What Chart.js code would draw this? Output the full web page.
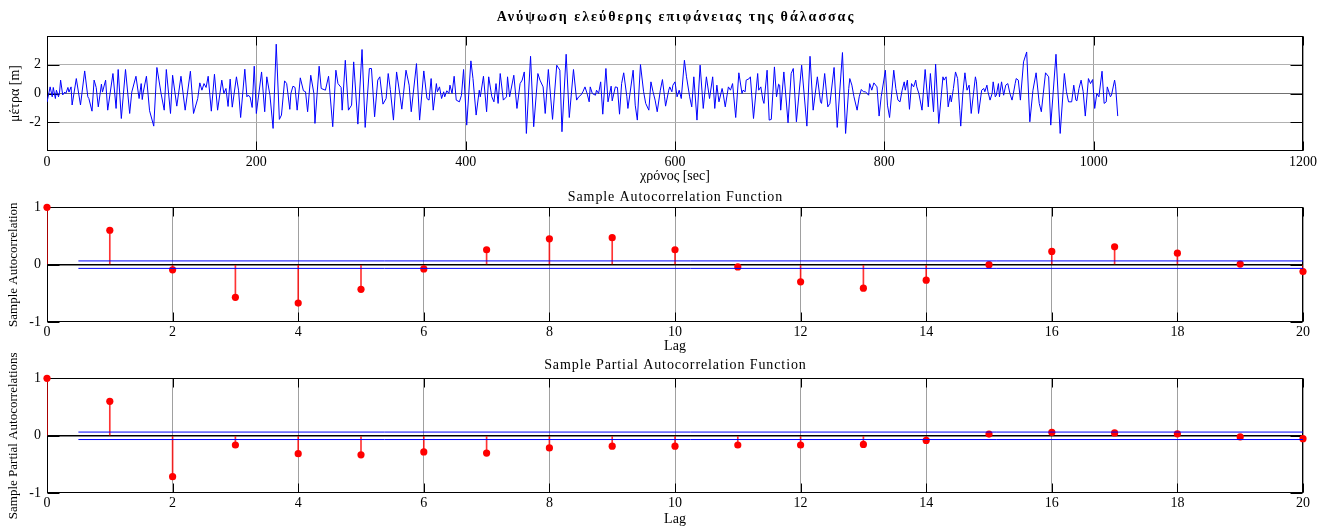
<!DOCTYPE html>
<html>
<head>
<meta charset="utf-8">
<script src="https://cdn.jsdelivr.net/npm/chart.js@4.4.1/dist/chart.umd.min.js"></script>
<style>
  html, body { margin: 0; padding: 0; background: #fff; }
  body { width: 1331px; height: 528px; position: relative; overflow: hidden; }
  canvas { position: absolute; left: 0; }
</style>
</head>
<body>
<canvas id="wave" width="1331" height="187" style="top:0"></canvas>
<canvas id="acf" width="1331" height="172" style="top:185px"></canvas>
<canvas id="pacf" width="1331" height="184" style="top:344px"></canvas>
<script>
// free surface elevation record: turning points of the trace (sec / m)
const waveTime = [
  0, 3, 5, 6, 8, 9, 11, 12, 13, 15, 17, 18, 20, 21, 23, 24, 28, 32, 36, 39,
  40, 43, 45, 47, 49, 52, 53, 56, 58, 63, 66, 68, 71, 75, 79, 81, 85, 88, 90, 91,
  92, 95, 98, 102, 105, 109, 112, 114, 118, 120, 124, 128, 132, 137, 140, 144, 146, 148, 150, 152,
  154, 157, 160, 163, 167, 169, 171, 173, 175, 177, 181, 183, 185, 189, 191, 192, 194, 196, 198, 200,
  205, 208, 210, 213, 216, 219, 222, 224, 227, 229, 232, 233, 235, 237, 239, 242, 245, 247, 249, 252,
  255, 256, 260, 262, 266, 269, 273, 276, 278, 281, 282, 285, 288, 291, 293, 297, 301, 304, 308, 310,
  313, 316, 318, 321, 324, 326, 328, 331, 334, 337, 339, 343, 346, 348, 353, 356, 360, 363, 365, 367,
  369, 372, 373, 375, 377, 379, 380, 382, 384, 385, 387, 389, 391, 394, 396, 398, 401, 405, 407, 410,
  413, 414, 417, 420, 422, 425, 427, 429, 431, 433, 436, 439, 440, 442, 446, 449, 452, 454, 456, 458,
  462, 465, 469, 471, 474, 476, 479, 483, 487, 490, 492, 496, 499, 503, 506, 508, 510, 512, 514, 516,
  518, 519, 521, 524, 525, 527, 529, 531, 534, 536, 539, 540, 543, 545, 547, 549, 551, 554, 555, 557,
  560, 562, 564, 567, 570, 572, 575, 577, 579, 581, 583, 586, 588, 590, 591, 594, 595, 597, 598, 600,
  602, 604, 606, 609, 611, 614, 616, 618, 621, 624, 627, 630, 633, 636, 638, 640, 642, 645, 646, 648,
  651, 653, 655, 658, 661, 664, 665, 667, 668, 671, 672, 675, 679, 680, 682, 684, 685, 688, 690, 692,
  695, 697, 699, 700, 701, 704, 708, 711, 713, 716, 721, 726, 729, 732, 736, 739, 740, 743, 746, 748,
  752, 755, 760, 763, 766, 767, 769, 771, 774, 776, 778, 780, 782, 785, 786, 788, 790, 793, 795, 797,
  801, 803, 805, 809, 811, 813, 815, 817, 819, 820, 822, 824, 826, 828, 830, 831, 833, 836, 839, 842,
  844, 847, 849, 852, 856, 857, 859, 860, 861, 863, 864, 866, 868, 870, 872, 873, 875, 877, 879, 881,
  883, 887, 888, 890, 893, 895, 896, 898, 899, 901, 903, 904, 906, 907, 909, 910, 912, 914, 916, 918,
  920, 922, 923, 925, 926, 928, 930, 933, 936, 939, 942, 945, 948, 950, 954, 957, 959, 964, 968, 972,
  974, 976, 979, 981, 983, 984, 986, 988, 990, 992, 995, 997, 999, 1001, 1003, 1005, 1008, 1010, 1012, 1013,
  1016, 1017, 1020, 1021, 1023
];
const waveElev = [
  -0.6, 0.46, -0.23, 0.42, -0.35, 0.23, -0.23, 0.1, 0.93, -0.1, 0.1, 0, 0.42, 0.1, 0.46, -0.8, 1.04, -0.8, 1.57, -0.23,
  -0.35, -1.23, 0.93, 0.42, -0.93, 0.65, 0.1, 0.93, -1.16, 1.39, -1.04, 1.67, -1.74, 1.67, -1.39, 0.1, 1.2, -0.35, 0.69, -0.42,
  0.1, 1.2, -1.2, -2.27, 1.81, 0, -1.16, 1.67, -1.39, 1.27, -0.88, 1.2, -1.16, 1.55, -1.39, -0.35, 0.74, 0.23, 0.69, 0.42,
  1.2, -1.23, 1.34, -1.16, 0.93, 0, 0.35, -0.9, 1.0, -0.95, 1.16, 0.23, -1.67, 1.69, -0.23, -0.12, -0.23, -0.97, 1.9, -1.39,
  1.5, -1.27, 1.16, -0.12, -2.43, 3.43, -1.8, -1.5, 0.88, 0.69, -1.1, 0, 0.51, 0.42, -1.16, 1.09, 0.19, 0.12, -1.27, 1.27,
  0, -2.08, 1.9, 0.35, 0.23, 1.2, -2.31, 1.62, 0.69, 0.42, -1.16, 2.31, -1.16, -0.81, 2.2, -2.13, 3.06, -2.36, 1.74, 1.74,
  -1.62, 0.93, 1.16, -0.74, -0.35, 1.39, 0.28, -1.85, 1.5, 0, -1.09, 1.62, 0.58, -1.27, 2.08, -1.85, 1.57, -0.35, -0.46, 1.04,
  -1.16, 0.69, 0.12, 0.46, -0.35, 0.12, -0.23, 0.19, 0, 0.58, 0, 1.2, -0.46, -0.58, -0.12, 1.67, -2.2, 2.27, 1.04, -1.5,
  0.23, -0.23, 1.2, -1.27, 1.16, -0.23, -0.58, 0.69, -0.69, 1.39, -0.46, -0.23, 1.16, -0.23, 1.27, -1.04, 0.69, 0.93, 1.5, -2.78,
  2.59, -2.31, 1.39, 0.93, 0.46, -1.39, 1.67, -1.8, 1.97, 1.62, -2.66, 2.73, -1.67, 1.67, -0.46, -0.23, -0.12, 0.12, 0.46, 0,
  -0.58, 0.46, 0, -0.12, 0.23, 0, 0.81, -1.44, 1.74, -0.58, 0.51, -0.51, 0.46, 0.42, -1.44, 0.69, 1.44, -0.23, -1.04, 0,
  1.62, -0.81, -1.85, 2.01, 0.12, -0.69, -1.16, 0.81, 0.12, -0.46, -1.27, 0.23, 0.97, -0.23, -0.88, 0.23, 0.46, 0.12, 0.58, 0.81,
  -0.23, 0.23, -0.35, 2.31, 1.16, -0.23, -0.93, 1.16, -1.85, 1.97, -1.04, 1.16, -0.35, 1.16, -1.04, 0.58, -0.58, 0.35, 0, -0.93,
  0.46, 0.23, 0.69, -1.67, 1.44, 0, 0.23, 0.12, 0.93, 1.04, 1.16, -1.74, 1.39, 0.23, 0.46, -0.46, -0.69, 1.62, -1.85, -1.8,
  1.85, -0.23, 0.65, 0.58, -1.16, 1.5, -2.04, 1.39, 1.74, -1.97, 1.97, -2.27, 2.59, -1.16, 1.16, -0.58, -0.69, 1.39, -0.93, -0.69,
  1.81, -2.36, 2.85, -2.78, 0.35, 1.04, 0.58, -0.23, -1.16, -0.23, 0.28, 0.12, 0.12, -0.12, 0.69, 0.23, 0.74, 0.46, -1.57, -0.23,
  1.62, -0.81, -1.67, 1.62, 0.35, -0.46, -0.58, 0.23, 0.81, 0.23, 0.93, -1.1, 0.69, 0.46, 0.93, 0.46, 0, -1.16, 1.67, -0.93,
  1.39, -1.27, 2.04, -2.08, 1.16, 0.93, 1.16, 0.23, -0.93, -0.12, -0.58, 0.35, 1.5, 1.04, -1.16, -2.27, 0, 1.44, 0.23, 0.58,
  -1.39, 1.16, 0.81, -1.39, 0.23, 0.35, 0.12, 0.58, 0.12, -0.46, 0, 0.81, -0.23, -0.12, 0.69, -0.23, 0.81, -0.12, 0.58, 0.69,
  0, -0.46, -0.12, 0.69, 1.04, 0.93, -0.46, 2.2, 2.89, -1.97, 0.23, 1.44, -0.69, -1.27, 1.44, 1.16, -2.2, 2.73, -2.78, 1.39,
  0.12, -0.58, -0.58, 0.58, -0.46, -0.51, 0.35, 0.93, 0.12, -1.57, 1.04, 0.69, 0.97, -1.04, 0, -0.23, 1.55, -0.69, -0.58, 0.46,
  -0.23, -0.12, 0.93, 0.46, -1.57
];
const timeTicks = [0, 200, 400, 600, 800, 1000, 1200];
const elevTicks = [-2, 0, 2];

// correlograms
const lags = [0, 1, 2, 3, 4, 5, 6, 7, 8, 9, 10, 11, 12, 13, 14, 15, 16, 17, 18, 19, 20];
const acfValues = [1, 0.60, -0.09, -0.57, -0.67, -0.43, -0.075, 0.26, 0.45, 0.47, 0.26,
  -0.04, -0.30, -0.41, -0.27, 0.0, 0.23, 0.31, 0.20, 0.01, -0.12];
const pacfValues = [1, 0.60, -0.71, -0.16, -0.31, -0.33, -0.28, -0.30, -0.21, -0.18, -0.18,
  -0.16, -0.16, -0.15, -0.08, 0.03, 0.06, 0.05, 0.035, -0.02, -0.05];
const confBound = 0.065;
const lagTicks = [0, 2, 4, 6, 8, 10, 12, 14, 16, 18, 20];
const corrTicks = [-1, 0, 1];

const serif = "'Liberation Serif', 'Times New Roman', serif";
Chart.defaults.font.family = serif;
Chart.defaults.font.size = 14;
Chart.defaults.color = '#000';
Chart.defaults.animation = false;
Chart.defaults.plugins.legend.display = false;
Chart.defaults.plugins.tooltip.enabled = false;

// black box round the plot area with inward tick marks, under the data
const frame = {
  id: 'frame',
  beforeDatasetsDraw(chart) {
    const { ctx, chartArea: a, scales } = chart;
    const L = Math.round(a.left) + 0.5, R = Math.round(a.right) - 0.5;
    const T = Math.round(a.top) + 0.5, B = Math.round(a.bottom) - 0.5;
    ctx.save();
    ctx.strokeStyle = '#000';
    ctx.lineWidth = 1;
    ctx.strokeRect(L, T, R - L, B - T);
    ctx.beginPath();
    scales.x.ticks.forEach(t => {
      const px = Math.round(scales.x.getPixelForValue(t.value)) + 0.5;
      ctx.moveTo(px, T); ctx.lineTo(px, T + 9);
      ctx.moveTo(px, B); ctx.lineTo(px, B - 9);
    });
    scales.y.ticks.forEach(t => {
      const py = Math.round(scales.y.getPixelForValue(t.value)) + 0.5;
      ctx.moveTo(L, py); ctx.lineTo(L + 12, py);
      ctx.moveTo(R, py); ctx.lineTo(R - 12, py);
    });
    ctx.stroke();
    ctx.restore();
  }
};

// panel heading, letter-spaced, centred over the plot area
const heading = {
  id: 'heading',
  afterDraw(chart, args, opts) {
    const { ctx, chartArea: a } = chart;
    ctx.save();
    ctx.font = (opts.bold ? 'bold ' : '') + '14px ' + serif;
    ctx.letterSpacing = opts.spacing + 'px';
    ctx.textAlign = 'center';
    ctx.textBaseline = 'middle';
    ctx.fillStyle = '#000';
    ctx.fillText(opts.text, (a.left + a.right) / 2 + opts.spacing / 2, opts.y);
    ctx.restore();
  }
};

function fixedTicks(values) {
  return scale => { scale.ticks = values.map(v => ({ value: v })); };
}

const plainNumber = v => String(v);

// elevation vs time
new Chart(document.getElementById('wave'), {
  type: 'line',
  data: {
    datasets: [{
      data: waveTime.map((t, i) => ({ x: t, y: waveElev[i] })),
      borderColor: '#0000ff',
      borderWidth: 1,
      pointRadius: 0,
      tension: 0
    }]
  },
  options: {
    responsive: false,
    layout: { padding: { left: 0, right: 28, top: 36, bottom: 0 } },
    plugins: {
      heading: { text: 'Ανύψωση ελεύθερης επιφάνειας της θάλασσας', bold: true, spacing: 2, y: 17 }
    },
    scales: {
      x: {
        type: 'linear', min: 0, max: 1200,
        afterBuildTicks: fixedTicks(timeTicks),
        afterFit: s => { s.height = 36; },
        ticks: { padding: 3, maxRotation: 0, callback: plainNumber },
        grid: { color: '#a0a0a0', drawTicks: false },
        border: { display: false },
        title: { display: true, text: 'χρόνος [sec]', padding: { top: 0, bottom: 2.6 } }
      },
      y: {
        min: -4, max: 4,
        afterBuildTicks: fixedTicks(elevTicks),
        afterFit: s => { s.width = 47; },
        ticks: { padding: 6, callback: plainNumber },
        grid: { color: c => c.tick.value === 0 ? '#707070' : '#b0b0b0', drawTicks: false },
        border: { display: false },
        title: { display: true, text: 'μέτρα [m]', padding: { top: 6.5, bottom: 0 } }
      }
    }
  },
  plugins: [frame, heading]
});

// stem plot with confidence bounds
function corrChart(id, values, headText, yTitle, top, headY, h, tickPad, lagPad) {
  return new Chart(document.getElementById(id), {
    type: 'bar',
    data: {
      datasets: [
        {
          type: 'line',
          data: [{ x: 0.5, y: confBound }, { x: 20, y: confBound }],
          borderColor: '#0000ff', borderWidth: 1, pointRadius: 0, order: 0
        },
        {
          type: 'line',
          data: [{ x: 0.5, y: -confBound }, { x: 20, y: -confBound }],
          borderColor: '#0000ff', borderWidth: 1, pointRadius: 0, order: 0
        },
        {
          type: 'line',
          data: lags.map((l, i) => ({ x: l, y: values[i] })),
          showLine: false,
          pointRadius: 3.6,
          pointBackgroundColor: '#ff0000',
          pointBorderWidth: 0,
          clip: false,
          order: 1
        },
        {
          type: 'bar',
          data: lags.map((l, i) => ({ x: l, y: values[i] })),
          backgroundColor: 'rgba(255,0,0,0.8)',
          barThickness: 1,
          order: 2
        }
      ]
    },
    options: {
      responsive: false,
      layout: { padding: { left: 0, right: 28, top: top, bottom: 0 } },
      plugins: { heading: { text: headText, bold: false, spacing: 0.9, y: headY } },
      scales: {
        x: {
          type: 'linear', min: 0, max: 20, offset: false,
          afterBuildTicks: fixedTicks(lagTicks),
          afterFit: s => { s.height = h; },
          ticks: { padding: tickPad, maxRotation: 0 },
          grid: { color: '#a0a0a0', drawTicks: false, offset: false },
          border: { display: false },
          title: { display: true, text: 'Lag', padding: { top: 0, bottom: lagPad } }
        },
        y: {
          min: -1, max: 1,
          afterBuildTicks: fixedTicks(corrTicks),
          afterFit: s => { s.width = 47; },
          ticks: { padding: 6 },
          grid: {
            color: c => c.tick.value === 0 ? '#000' : 'rgba(0,0,0,0)',
            lineWidth: c => c.tick.value === 0 ? 1.5 : 1,
            drawTicks: false
          },
          border: { display: false },
          title: {
            display: true, text: yTitle,
            font: { size: 13 },
            padding: { top: 6, bottom: 0 }
          }
        }
      }
    },
    plugins: [frame, heading]
  });
}

corrChart('acf', acfValues, 'Sample Autocorrelation Function', 'Sample Autocorrelation',
  22.3, 12, 35, 2, 2.6);
corrChart('pacf', pacfValues, 'Sample Partial Autocorrelation Function', 'Sample Partial Autocorrelations',
  34.3, 21, 34.7, 1.5, 0);
</script>
</body>
</html>
